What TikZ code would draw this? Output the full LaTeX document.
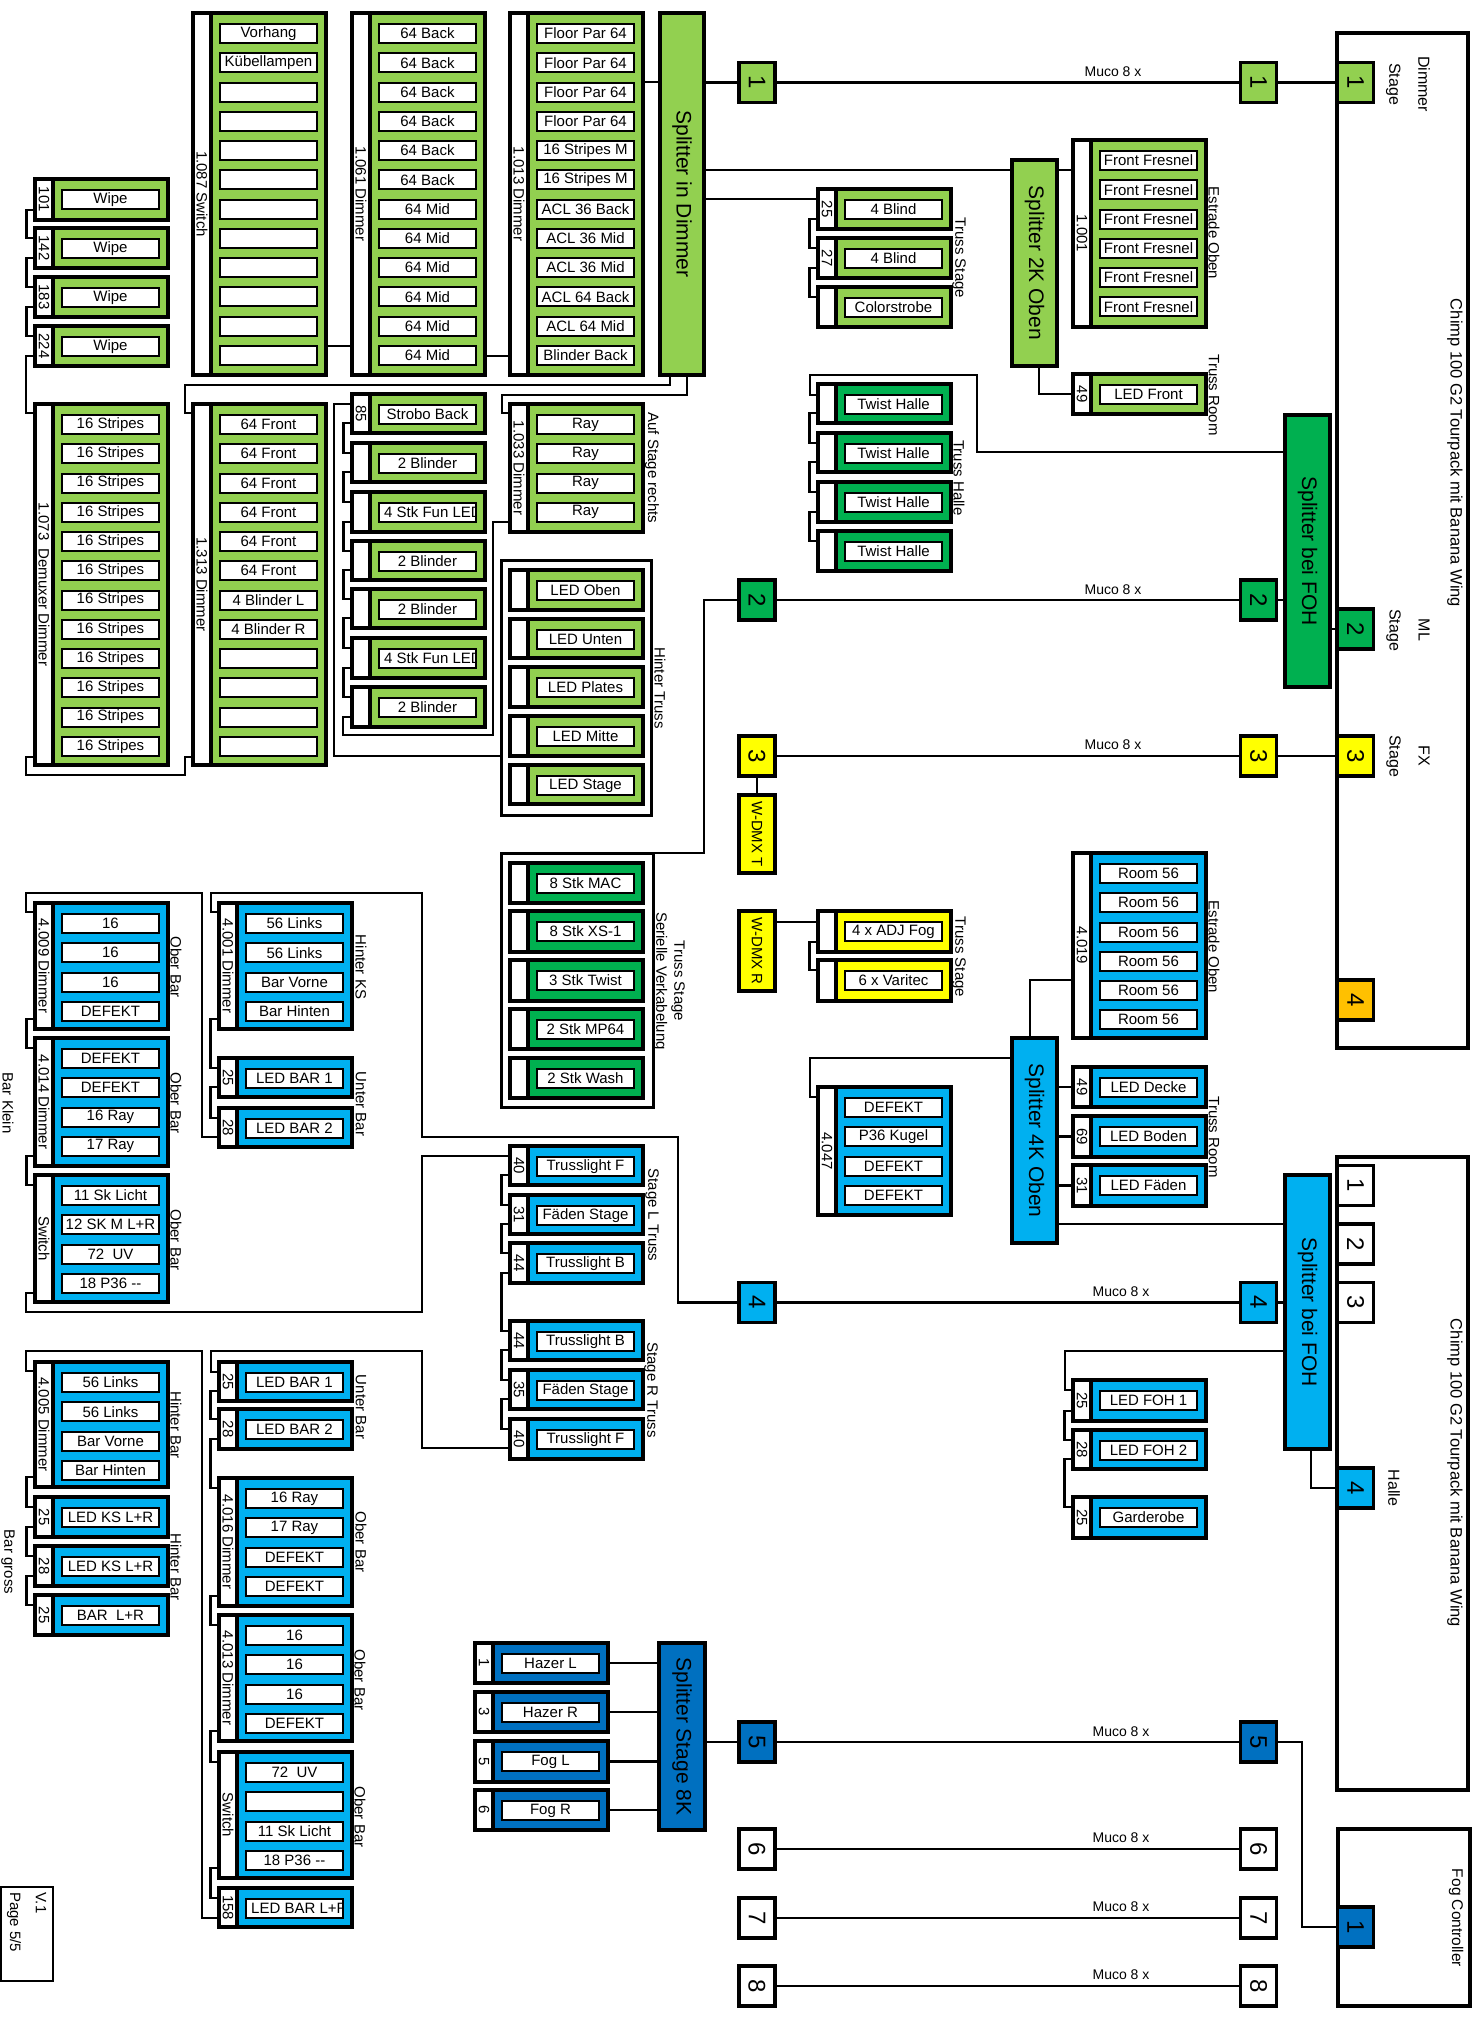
\documentclass[tikz,border=0pt]{standalone}
\usepackage{fontspec}
\usepackage{graphicx}
\setmainfont{Liberation Sans}
\usetikzlibrary{calc}
\definecolor{lgreen}{HTML}{92D050}
\definecolor{dgreen}{HTML}{00B050}
\definecolor{yel}{HTML}{FFFF00}
\definecolor{orng}{HTML}{FFC000}
\definecolor{lblue}{HTML}{00B0F0}
\definecolor{dblue}{HTML}{0070C0}
\newcommand\fs[1]{\fontsize{#1}{#1}\selectfont}
\tikzset{
 conn/.style={line width=2.2pt},
 frame/.style={draw, line width=3.5pt, inner sep=0pt, outer sep=0pt},
 grp/.style={draw, line width=3pt, inner sep=0pt, outer sep=0pt},
 rowbox/.style={draw, line width=2pt, fill=white, minimum width=97pt, minimum height=19pt, inner sep=0pt, outer sep=0pt, font=\fs{15}},
 vlab/.style={rotate=-90, inner sep=0pt, font=\fs{15}},
 numbox/.style={frame, minimum width=36pt, minimum height=40pt, font=\fs{24}},
 muco/.style={inner sep=0pt, font=\fs{14}},
}
\newcommand\modu[7]{%
 \node[frame, fill=#5, anchor=north west, minimum width=133pt, minimum height={(#4-#3)*1pt}] (#1) at (#2,#3) {};
 \node[frame, fill=white, anchor=north west, minimum width=18pt, minimum height={(#4-#3)*1pt}] (#1s) at (#2,#3) {};
 \node[vlab] at (#1s.center) {#6};
 \foreach \rowt [count=\ri from 0] in {#7} {\node[rowbox] (#1r\ri) at ({#2+75.5},{#3+20.5+29.25*\ri}) {\rowt};}%
}
\newcommand\chn[2]{\draw[conn] ($(#1.south west)+(0,-10)$) -- ++(-8.5,0) |- ($(#2.north west)+(0,10)$);}
\newcommand\numb[5]{\node[numbox, fill=#4] (#1) at (#2,#3) {\rotatebox{-90}{#5}};}
\newcommand\spl[7]{%
 \node[frame, fill=#6, anchor=north west, minimum width={(#4-#2)*1pt}, minimum height={(#5-#3)*1pt}] (#1) at (#2,#3) {};
 \node[vlab, font=\fs{21}] at (#1.center) {#7};}
\newcommand\cliptext[2]{\begin{scope}\clip ($(#1.north west)+(1,1)$) rectangle ($(#1.south east)+(-1,-1)$);\node[anchor=west, inner sep=0pt, font=\fs{15}] at ($(#1.west)+(5,0)$) {#2};\end{scope}}
\begin{document}
\begin{tikzpicture}[x=1pt,y=-1pt]
\useasboundingbox (0,0) rectangle (1478,2022);
% ---------- group frames ----------
\node[grp, anchor=north west, minimum width=150pt, minimum height=255pt] (ht) at (501,560) {};
\node[grp, anchor=north west, minimum width=152pt, minimum height=254pt] (sg) at (501,853) {};
\node[frame, anchor=north west, minimum width=131pt, minimum height=1015pt] (chimp1) at (1337,33) {};
\node[frame, anchor=north west, minimum width=131pt, minimum height=633pt] (chimp2) at (1337,1157) {};
\node[frame, anchor=north west, minimum width=132pt, minimum height=177pt] (fogc) at (1338,1829) {};
% ---------- column A ----------
\modu{w101}{35}{179}{220}{lgreen}{101}{Wipe}
\modu{w142}{35}{228}{268}{lgreen}{142}{Wipe}
\modu{w183}{35}{277}{317}{lgreen}{183}{Wipe}
\modu{w224}{35}{326}{366}{lgreen}{224}{Wipe}
\modu{dmx}{35}{404}{765}{lgreen}{1.073\ \ Demuxer Dimmer}{16 Stripes,16 Stripes,16 Stripes,16 Stripes,16 Stripes,16 Stripes,16 Stripes,16 Stripes,16 Stripes,16 Stripes,16 Stripes,16 Stripes}
\modu{da}{35}{903}{1029}{lblue}{4.009 Dimmer}{16,16,16,DEFEKT}
\modu{db}{35}{1038}{1166}{lblue}{4.014 Dimmer}{DEFEKT,DEFEKT,16 Ray,17 Ray}
\modu{swa}{35}{1175}{1302}{lblue}{Switch}{11 Sk Licht,12 SK M L+R,72\ \ UV,18 P36 {-}{-}}
\modu{dc}{35}{1362}{1487}{lblue}{4.005 Dimmer}{56 Links,56 Links,Bar Vorne,Bar Hinten}
\modu{ksa}{35}{1497}{1537}{lblue}{25}{LED KS L+R}
\modu{ksb}{35}{1546}{1586}{lblue}{28}{LED KS L+R}
\modu{barlr}{35}{1595}{1635}{lblue}{25}{BAR\ \ L+R}
% ---------- column B ----------
\modu{sw1087}{193}{13}{375}{lgreen}{1.087 Switch}{Vorhang,Kübellampen,{},{},{},{},{},{},{},{},{},{}}
\modu{d1313}{193}{404}{765}{lgreen}{1.313 Dimmer}{64 Front,64 Front,64 Front,64 Front,64 Front,64 Front,4 Blinder L,4 Blinder R,{},{},{},{}}
\modu{dd}{219}{903}{1029}{lblue}{4.001 Dimmer}{56 Links,56 Links,Bar Vorne,Bar Hinten}
\modu{lba}{219}{1058}{1097}{lblue}{25}{LED BAR 1}
\modu{lbb}{219}{1108}{1147}{lblue}{28}{LED BAR 2}
\modu{lbc}{219}{1362}{1401}{lblue}{25}{LED BAR 1}
\modu{lbd}{219}{1409}{1449}{lblue}{28}{LED BAR 2}
\modu{de}{219}{1478}{1606}{lblue}{4.016 Dimmer}{16 Ray,17 Ray,DEFEKT,DEFEKT}
\modu{df}{219}{1615}{1741}{lblue}{4.013 Dimmer}{16,16,16,DEFEKT}
\modu{swb}{219}{1752}{1878}{lblue}{Switch}{72\ \ UV,{},11 Sk Licht,18 P36 {-}{-}}
\modu{lbe}{219}{1888}{1927}{lblue}{158}{{}}
\cliptext{lber0}{LED BAR L+R}
% ---------- column C ----------
\modu{d1061}{352}{13}{375}{lgreen}{1.061 Dimmer}{64 Back,64 Back,64 Back,64 Back,64 Back,64 Back,64 Mid,64 Mid,64 Mid,64 Mid,64 Mid,64 Mid}
\modu{sb}{352}{394}{433}{lgreen}{85}{Strobo Back}
\modu{bla}{352}{443}{482}{lgreen}{}{2 Blinder}
\modu{funa}{352}{492}{532}{lgreen}{}{{}}
\cliptext{funar0}{4 Stk Fun LED}
\modu{blb}{352}{541}{580}{lgreen}{}{2 Blinder}
\modu{blc}{352}{589}{628}{lgreen}{}{2 Blinder}
\modu{funb}{352}{638}{678}{lgreen}{}{{}}
\cliptext{funbr0}{4 Stk Fun LED}
\modu{bld}{352}{687}{727}{lgreen}{}{2 Blinder}
% ---------- column D ----------
\modu{d1013}{510}{13}{375}{lgreen}{1.013 Dimmer}{Floor Par 64,Floor Par 64,Floor Par 64,Floor Par 64,16 Stripes M,16 Stripes M,ACL 36 Back,ACL 36 Mid,ACL 36 Mid,ACL 64 Back,ACL 64 Mid,Blinder Back}
\modu{d1033}{510}{404}{532}{lgreen}{1.033 Dimmer}{Ray,Ray,Ray,Ray}
\modu{hta}{510}{570}{610}{lgreen}{}{LED Oben}
\modu{htb}{510}{619}{658}{lgreen}{}{LED Unten}
\modu{htc}{510}{667}{707}{lgreen}{}{LED Plates}
\modu{htd}{510}{716}{756}{lgreen}{}{LED Mitte}
\modu{hte}{510}{765}{804}{lgreen}{}{LED Stage}
\modu{sga}{510}{863}{903}{dgreen}{}{8 Stk MAC}
\modu{sgb}{510}{911}{952}{dgreen}{}{8 Stk XS-1}
\modu{sgc}{510}{960}{1001}{dgreen}{}{3 Stk Twist}
\modu{sgd}{510}{1009}{1049}{dgreen}{}{2 Stk MP64}
\modu{sge}{510}{1058}{1098}{dgreen}{}{2 Stk Wash}
\modu{tla}{510}{1146}{1185}{lblue}{40}{Trusslight F}
\modu{fsa}{510}{1195}{1234}{lblue}{31}{Fäden Stage}
\modu{tlb}{510}{1243}{1283}{lblue}{44}{Trusslight B}
\modu{tlc}{510}{1321}{1360}{lblue}{44}{Trusslight B}
\modu{fsb}{510}{1370}{1409}{lblue}{35}{Fäden Stage}
\modu{tld}{510}{1419}{1459}{lblue}{40}{Trusslight F}
\modu{hzl}{475}{1643}{1683}{dblue}{1}{Hazer L}
\modu{hzr}{475}{1692}{1732}{dblue}{3}{Hazer R}
\modu{fgl}{475}{1741}{1782}{dblue}{5}{Fog L}
\modu{fgr}{475}{1790}{1830}{dblue}{6}{Fog R}
% ---------- column F ----------
\modu{bla25}{818}{189}{229}{lgreen}{25}{4 Blind}
\modu{bla27}{818}{238}{278}{lgreen}{27}{4 Blind}
\modu{cst}{818}{287}{327}{lgreen}{}{Colorstrobe}
\modu{twa}{818}{384}{423}{dgreen}{}{Twist Halle}
\modu{twb}{818}{433}{472}{dgreen}{}{Twist Halle}
\modu{twc}{818}{482}{522}{dgreen}{}{Twist Halle}
\modu{twd}{818}{531}{571}{dgreen}{}{Twist Halle}
\modu{fog}{818}{911}{952}{yel}{}{4 x ADJ Fog}
\modu{var}{818}{960}{1001}{yel}{}{6 x Varitec}
\modu{dg}{818}{1087}{1215}{lblue}{4.047}{DEFEKT,P36 Kugel,DEFEKT,DEFEKT}
% ---------- column G ----------
\modu{d1001}{1073}{140}{327}{lgreen}{1.001}{Front Fresnel,Front Fresnel,Front Fresnel,Front Fresnel,Front Fresnel,Front Fresnel}
\modu{ledf}{1073}{374}{414}{lgreen}{49}{LED Front}
\modu{dh}{1073}{853}{1038}{lblue}{4.019}{Room 56,Room 56,Room 56,Room 56,Room 56,Room 56}
\modu{ldk}{1073}{1067}{1107}{lblue}{49}{LED Decke}
\modu{lbo}{1073}{1116}{1157}{lblue}{69}{LED Boden}
\modu{lfd}{1073}{1165}{1206}{lblue}{31}{LED Fäden}
\modu{foha}{1073}{1380}{1421}{lblue}{25}{LED FOH 1}
\modu{fohb}{1073}{1430}{1469}{lblue}{28}{LED FOH 2}
\modu{gard}{1073}{1497}{1538}{lblue}{25}{Garderobe}
% ---------- splitters ----------
\spl{spd}{660}{13}{704}{375}{lgreen}{Splitter in Dimmer}
\spl{sp2k}{1012}{160}{1057}{366}{lgreen}{Splitter 2K Oben}
\spl{spfg}{1285}{415}{1330}{687}{dgreen}{Splitter bei FOH}
\spl{sp4k}{1012}{1038}{1057}{1243}{lblue}{Splitter 4K Oben}
\spl{spfb}{1285}{1175}{1330}{1449}{lblue}{Splitter bei FOH}
\spl{sp8k}{659}{1643}{705}{1830}{dblue}{Splitter Stage 8K}
% ---------- number boxes ----------
\numb{nla}{757}{82.5}{lgreen}{1}
\numb{nra}{1258.5}{82.5}{lgreen}{1}
\numb{ca}{1355.5}{82.5}{lgreen}{1}
\numb{nlb}{757}{600}{dgreen}{2}
\numb{nrb}{1258.5}{600}{dgreen}{2}
\numb{cb}{1355.5}{629}{dgreen}{2}
\numb{nlc}{757}{756}{yel}{3}
\numb{nrc}{1258.5}{756}{yel}{3}
\numb{cc}{1355.5}{756}{yel}{3}
\numb{cd}{1355.5}{1000}{orng}{4}
\numb{da1}{1355.5}{1185.5}{white}{1}
\numb{da2}{1355.5}{1244}{white}{2}
\numb{da3}{1355.5}{1302.5}{white}{3}
\numb{da4}{1355.5}{1488}{lblue}{4}
\numb{nld}{757}{1302.5}{lblue}{4}
\numb{nrd}{1258.5}{1302.5}{lblue}{4}
\numb{nle}{757}{1742}{dblue}{5}
\numb{nre}{1258.5}{1742}{dblue}{5}
\numb{nlf}{757}{1849}{white}{6}
\numb{nrf}{1258.5}{1849}{white}{6}
\numb{nlg}{757}{1918}{white}{7}
\numb{nrg}{1258.5}{1918}{white}{7}
\numb{nlh}{757}{1986}{white}{8}
\numb{nrh}{1258.5}{1986}{white}{8}
\numb{fc1}{1355.5}{1927}{dblue}{1}
\node[frame, fill=yel, minimum width=36pt, minimum height=78pt] (wdt) at (757,834) {};
\node[vlab] at (wdt) {W-DMX T};
\node[frame, fill=yel, minimum width=36pt, minimum height=80pt] (wdr) at (757,951) {};
\node[vlab] at (wdr) {W-DMX R};
% ---------- labels ----------
\node[muco] at (1113,72) {Muco 8 x};
\node[muco] at (1113,590) {Muco 8 x};
\node[muco] at (1113,745) {Muco 8 x};
\node[muco] at (1121,1292) {Muco 8 x};
\node[muco] at (1121,1732) {Muco 8 x};
\node[muco] at (1121,1838) {Muco 8 x};
\node[muco] at (1121,1907) {Muco 8 x};
\node[muco] at (1121,1975) {Muco 8 x};
\node[vlab, font=\fontsize{16}{29}\selectfont, align=center] at (1408,84) {Dimmer\\Stage};
\node[vlab, font=\fontsize{16}{29}\selectfont, align=center] at (1408,630) {ML\\Stage};
\node[vlab, font=\fontsize{16}{29}\selectfont, align=center] at (1408,756) {FX\\Stage};
\node[vlab, font=\fs{16}] at (1394,1488) {Halle};
\node[vlab, font=\fs{16.5}] at (1455,453) {Chimp 100 G2 Tourpack mit Banana Wing};
\node[vlab, font=\fs{16.5}] at (1455,1473) {Chimp 100 G2 Tourpack mit Banana Wing};
\node[vlab, font=\fs{15.5}] at (1456,1918) {Fog Controller};
\node[vlab] at (959,258) {Truss Stage};
\node[vlab] at (1214,233) {Estrade Oben};
\node[vlab] at (1214,395) {Truss Room};
\node[vlab] at (959,478) {Truss Halle};
\node[vlab] at (652,468) {Auf Stage rechts};
\node[vlab] at (660,688) {Hinter Truss};
\node[vlab, font=\fontsize{15}{18}\selectfont, align=center] at (669,981) {Truss Stage\\Serielle Verkabelung};
\node[vlab] at (959,957) {Truss Stage};
\node[vlab] at (1214,947) {Estrade Oben};
\node[vlab] at (1214,1137) {Truss Room};
\node[vlab] at (176,967) {Ober Bar};
\node[vlab] at (176,1103) {Ober Bar};
\node[vlab] at (176,1240) {Ober Bar};
\node[vlab] at (361,967) {Hinter KS};
\node[vlab] at (361,1104) {Unter Bar};
\node[vlab] at (8,1103) {Bar Klein};
\node[vlab] at (176,1425) {Hinter Bar};
\node[vlab] at (176,1567) {Hinter Bar};
\node[vlab] at (8,1562) {Bar gross};
\node[vlab] at (361,1407) {Unter Bar};
\node[vlab] at (361,1542) {Ober Bar};
\node[vlab] at (360,1680) {Ober Bar};
\node[vlab] at (360,1817) {Ober Bar};
\node[vlab] at (652,1215) {Stage L Truss};
\node[vlab] at (651,1390) {Stage R Truss};
\node[draw, line width=1.5pt, anchor=north west, minimum width=52pt, minimum height=94pt, inner sep=0pt] (ver) at (0,1886) {};
\node[vlab, anchor=west] (vtxt) at (41,1892) {V.1};
\node[vlab, anchor=west] (ptxt) at (14,1892) {Page 5/5};
% ---------- connectors ----------
\draw[conn] (d1013.east|-0,82) -- (spd.west|-0,82);
\draw[conn] (spd.east|-nla) -- (nla.west) (nla.east) -- (nra.west) (nra.east) -- (ca.west);
\draw[conn] (sw1087.east|-0,346) -- (d1061.west|-0,346);
\draw[conn] (d1061.east|-0,356) -- (d1013.west|-0,356);
\draw[conn] (spd.east|-0,170) -- (sp2k.west|-0,170);
\draw[conn] (spd.east|-0,199) -- (bla25.west|-0,199);
\chn{bla25}{bla27}\chn{bla27}{cst}
\draw[conn] (sp2k.east|-0,170) -- (d1001.west|-0,170);
\draw[conn] (sp2k.south-|1039,0) |- (ledf.west);
\draw[conn] (spd.south-|670,0) |- (185,385) |- (d1313.west|-0,413);
\draw[conn] (spd.south-|687,0) |- (502,395) |- (d1033.west|-0,413);
\draw[conn] (d1313.west|-0,757) -| (185,775) -| (26,757) -- (dmx.west|-0,757);
\draw[conn] (dmx.west|-0,413) -| (26,356) -- (w224.west|-0,356);
\chn{w101}{w142}\chn{w142}{w183}\chn{w183}{w224}
\draw[conn] (d1033.west|-0,522) -| (493,735) -| (343,717) -- (bld.west|-0,717);
\chn{sb}{bla}\chn{bla}{funa}\chn{funa}{blb}\chn{blb}{blc}\chn{blc}{funb}\chn{funb}{bld}
\draw[conn] (sb.west|-0,404) -| (334,756) -- (ht.west|-0,756);
\draw[conn] (spfg.west|-0,452) -| (977,375) -| (810,395) -- (twa.west|-0,395);
\chn{twa}{twb}\chn{twb}{twc}\chn{twc}{twd}
\draw[conn] (nlb.west) -| (704,853) -- (sg.north east);
\draw[conn] (nlb.east) -- (nrb.west) (nrb.east) -- (spfg.west|-nrb);
\draw[conn] (spfg.east|-cb) -- (cb.west);
\draw[conn] (nlc.east) -- (nrc.west) (nrc.east) -- (cc.west);
\draw[conn] (nlc.south) -- (wdt.north);
\draw[conn] (wdr.east|-0,922) -- (fog.west|-0,922);
\chn{fog}{var}
\draw[conn] (sp4k.north-|1030,0) |- (dh.west|-0,980);
\draw[conn] (sp4k.west|-0,1058) -| (810,1097) -- (dg.west|-0,1097);
\draw[conn] (sp4k.east|-ldk) -- (ldk.west);
\draw[conn] (sp4k.east|-lbo) -- (lbo.west);
\draw[conn] (sp4k.east|-lfd) -- (lfd.west);
\draw[conn] (sp4k.east|-0,1224) -- (spfb.west|-0,1224);
\draw[conn] (nld.east) -- (nrd.west) (nrd.east) -- (spfb.west|-nrd);
\draw[conn] (spfb.west|-0,1351) -| (1065,1390) -- (foha.west|-0,1390);
\chn{foha}{fohb}\chn{fohb}{gard}
\draw[conn] (spfb.south-|1311,0) |- (da4.west);
\draw[conn] (nld.west) -| (678,1137) -| (422,893) -| (211,912) -- (dd.west|-0,912);
\chn{dd}{lba}\chn{lba}{lbb}
\draw[conn] (lbb.west|-0,1137) -| (202,893) -| (26,912) -- (da.west|-0,912);
\chn{da}{db}\chn{db}{swa}
\draw[conn] (swa.west|-0,1293) -| (26,1312) -| (422,1156) -- (tla.west|-0,1156);
\chn{tla}{fsa}\chn{fsa}{tlb}\chn{tlb}{tlc}\chn{tlc}{fsb}\chn{fsb}{tld}
\draw[conn] (tld.west|-0,1448) -| (422,1351) -| (211,1372) -- (lbc.west|-0,1372);
\chn{lbc}{lbd}\chn{lbd}{de}\chn{de}{df}\chn{df}{swb}\chn{swb}{lbe}
\draw[conn] (lbe.west|-0,1918) -| (202,1351) -| (26,1371) -- (dc.west|-0,1371);
\chn{dc}{ksa}\chn{ksa}{ksb}\chn{ksb}{barlr}
\draw[conn] (hzl.east) -- (sp8k.west|-hzl);
\draw[conn] (hzr.east) -- (sp8k.west|-hzr);
\draw[conn] (fgl.east) -- (sp8k.west|-fgl);
\draw[conn] (fgr.east) -- (sp8k.west|-fgr);
\draw[conn] (sp8k.east|-nle) -- (nle.west) (nle.east) -- (nre.west) (nre.east) -| (1302,1927) -- (fc1.west);
\draw[conn] (nlf.east) -- (nrf.west);
\draw[conn] (nlg.east) -- (nrg.west);
\draw[conn] (nlh.east) -- (nrh.west);
\end{tikzpicture}
\end{document}
